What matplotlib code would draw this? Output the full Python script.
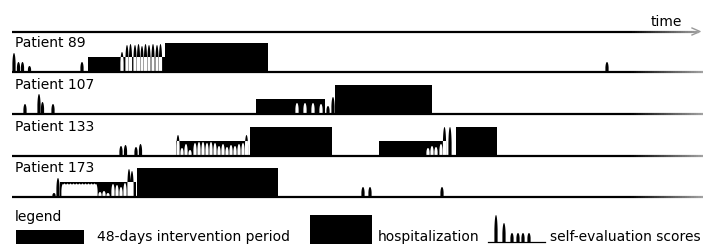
import numpy as np
import matplotlib
matplotlib.use('Agg')
import matplotlib.pyplot as plt
from matplotlib.collections import LineCollection
from matplotlib.patches import Rectangle

# timeline data (x = day on the time axis)
patients = ['Patient 89', 'Patient 107', 'Patient 133', 'Patient 173']
intervention = [[(88, 165)], [(256, 325)], [(176, 248), (379, 446)], [(60, 136)]]
hospitalization = [[(165, 268)], [(335, 432)], [(250, 332), (456, 497)], [(137, 278)]]

score_days = [
    [14, 18.5, 22.5, 29.5, 82, 122, 127, 130.5, 135, 138.5, 142, 145.5, 149, 153, 157, 160.5, 607],
    [25, 39, 42.5, 53, 297, 305, 313, 321, 328, 333],
    [121, 125.5, 136, 140.5, 178, 182, 186, 190, 195, 199, 203, 207, 211, 215, 219, 223,
     227, 231, 235, 239, 243, 246.5, 428, 432, 436, 441, 444.5, 450],
    [54, 58, 63, 64.5, 66, 67.5, 69, 70.5, 72, 73.5, 75, 76.5, 78, 79.5, 81, 82.5, 84, 85.5,
     87, 88.5, 90, 91.5, 93, 94.5, 96, 100, 104, 108, 113, 117, 121, 125, 129, 132, 363, 370, 442],
]
score_vals = [
    [19, 10, 10, 6, 10, 20, 27, 28, 27, 28, 26, 28, 27, 28, 27, 28, 10],
    [10, 20, 12, 10, 11, 11, 11, 10, 8, 17],
    [10, 11, 9, 12, 21, 8, 12, 6, 13, 14, 14, 13, 14, 13, 10, 12,
     9, 11, 10, 12, 13, 21, 8, 10, 9, 12, 29, 29],
    [4, 19, 13, 13.5, 13, 13.5, 13, 13.5, 13, 13.5, 13, 13.5, 13, 13.5, 13, 13.5, 13, 13.5,
     13, 13.5, 13, 13.5, 13, 13.5, 13, 5, 6, 4, 13, 12, 10, 14, 28, 26, 10, 10, 10],
]

legend_days = [496, 504, 512, 518, 523, 529]
legend_vals = [27, 19, 9, 9, 9, 9]

row_base = [72, 114, 156, 197]
h_int, h_hosp = 15, 29

fig = plt.figure(figsize=(7.03, 2.46), dpi=100)
ax = fig.add_axes([0, 0, 1, 1])
ax.set_xlim(0, 703)
ax.set_ylim(246, 0)
ax.axis('off')

xs = np.linspace(0, 703, 7031)


def bumps(days, vals, w=1.7):
    y = np.zeros_like(xs)
    for d, v in zip(days, vals):
        u = np.clip(1 - ((xs - d) / w) ** 2, 0, None)
        y = np.maximum(y, v * u ** 0.35)
    return y


def fade_line(y, x0, x1, lw=1.6):
    px = np.linspace(x0, x1, 300)
    segs = [[(px[i], y), (px[i + 1], y)] for i in range(len(px) - 1)]
    cols = []
    for i in range(len(px) - 1):
        t = np.clip((px[i] - 630) / (x1 - 630), 0, 1)
        g = 0.65 * t
        cols.append((g, g, g))
    ax.add_collection(LineCollection(segs, colors=cols, linewidths=lw, zorder=4,
                                     capstyle='butt'))


# time arrow
fade_line(31.5, 12, 699, lw=1.6)
ax.plot([692, 700, 692], [28, 31.5, 35], color='0.6', lw=1.0)
ax.text(682, 26, 'time', fontsize=10, ha='right', va='baseline')

for name, base, ints, hosps, days, vals in zip(patients, row_base, intervention,
                                               hospitalization, score_days, score_vals):
    ax.text(15, base - 25, name, fontsize=10, ha='left', va='baseline')
    h = bumps(days, vals)
    ax.fill_between(xs, base, base - h, where=h > 0.05, color='k', lw=0, zorder=2)
    rects = [Rectangle((a, base - h_int), b - a, h_int, fc='k', lw=0, zorder=1) for a, b in ints]
    rects += [Rectangle((a, base - h_hosp), b - a, h_hosp, fc='k', lw=0, zorder=1) for a, b in hosps]
    for r in rects:
        ax.add_patch(r)
        w = ax.fill_between(xs, base, base - h, where=h > 0.05, color='w', lw=0, zorder=3)
        w.set_clip_path(r)
    fade_line(base, 12, 703)

# legend
ax.text(15, 221, 'legend', fontsize=10, ha='left', va='baseline')
ax.add_patch(Rectangle((16, 244 - 14), 68, 14, fc='k', lw=0))
ax.text(97, 241, '48-days intervention period', fontsize=10, ha='left', va='baseline')
ax.add_patch(Rectangle((310, 244 - 29), 62, 29, fc='k', lw=0))
ax.text(378, 241, 'hospitalization', fontsize=10, ha='left', va='baseline')
hl = bumps(legend_days, legend_vals)
ax.fill_between(xs, 242, 242 - hl, where=hl > 0.05, color='k', lw=0)
ax.plot([488, 545], [242, 242], color='k', lw=0.9)
ax.text(550, 241, 'self-evaluation scores', fontsize=10, ha='left', va='baseline')

fig.savefig('out.png', dpi=100)
